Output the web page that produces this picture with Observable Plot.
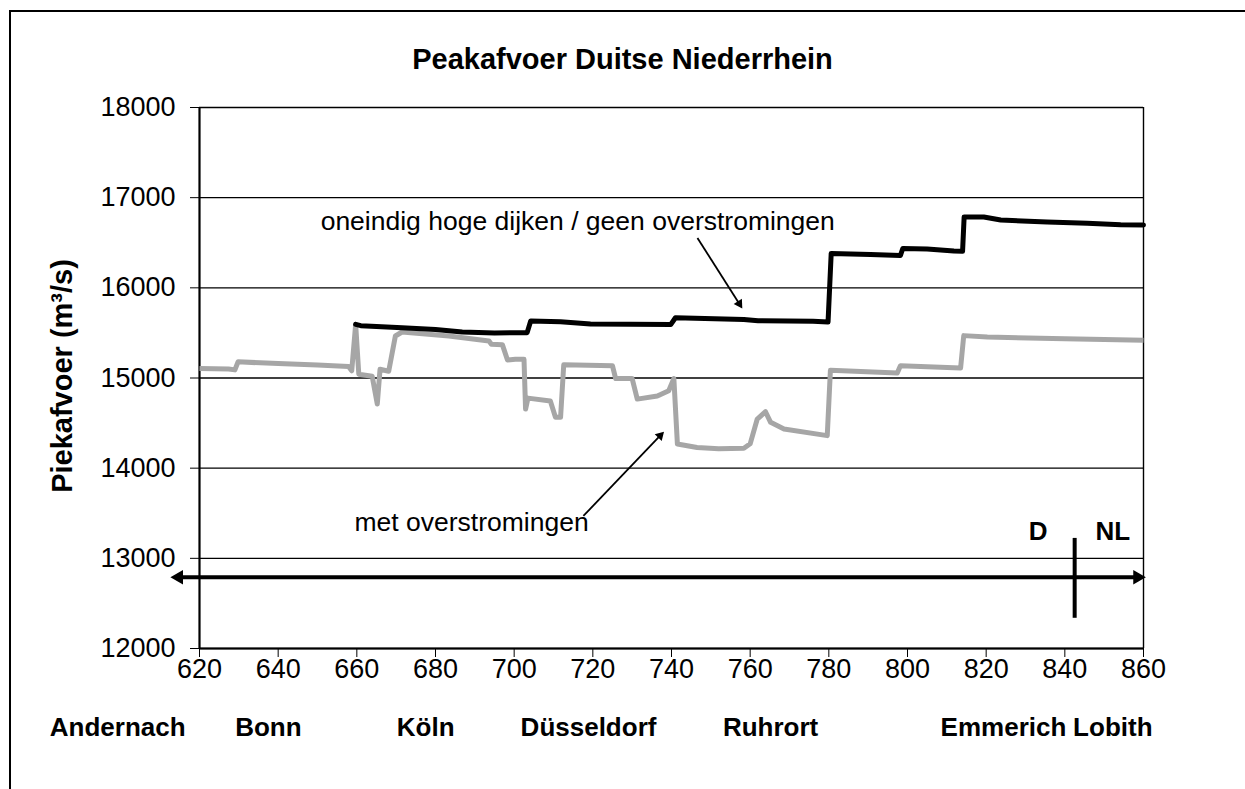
<!DOCTYPE html>
<html>
<head>
<meta charset="utf-8">
<script src="https://cdn.jsdelivr.net/npm/d3@7"></script>
<script src="https://cdn.jsdelivr.net/npm/@observablehq/plot@0.6"></script>
<style>
  html, body { margin: 0; padding: 0; background: #fff; }
  #wrap { position: relative; width: 1245px; height: 789px; overflow: hidden; font-family: "Liberation Sans", Arial, sans-serif; }
  #frame { position: absolute; left: 9px; top: 10px; width: 1300px; height: 900px; border-left: 2px solid #000; border-top: 2px solid #000; }
  #title { position: absolute; left: 0; top: 43px; width: 1245px; text-align: center; font-weight: bold; font-size: 29px; color: #000; }
  #chart { position: absolute; left: 0; top: 0; }
</style>
</head>
<body>
<div id="wrap">
  <div id="frame"></div>
  <div id="chart"></div>
  <div id="title">Peakafvoer Duitse Niederrhein</div>
</div>
<script>
// ---- data (river km, peak discharge m3/s) ----
const blackKm = [659.7, 661, 665, 671.5, 680, 686.8, 695, 703.3, 704.2, 711.8, 719.4, 739.8, 741, 758.4, 762, 776, 779.8, 780.6, 790.6, 798.2, 798.8, 805, 811.8, 814, 814.4, 819.4, 823.7, 835.5, 845.7, 854.2, 860];
const blackQ  = [15595, 15580, 15570, 15558, 15539, 15510, 15500, 15503, 15632, 15625, 15600, 15592, 15668, 15650, 15635, 15630, 15620, 16381, 16370, 16359, 16437, 16430, 16408, 16405, 16786, 16786, 16752, 16730, 16715, 16700, 16698];

const grayKm = [620, 627.4, 629, 629.8, 640, 650, 657.9, 658.7, 659.7, 660.5, 663.9, 665.2, 665.9, 668.1, 669.8, 671.5, 683.4, 693.6, 694.2, 697, 698.3, 700.3, 702.5, 702.9, 703.5, 709.2, 710.5, 711.8, 712.6, 725, 725.8, 730, 731.3, 736.4, 739.3, 740.6, 741.5, 746.5, 752, 758.4, 760, 761.8, 763.9, 765.2, 768.6, 779.6, 780.4, 797.4, 798.2, 813.5, 814.3, 820.3, 840, 860];
const grayQ  = [15105, 15100, 15090, 15179, 15160, 15145, 15127, 15080, 15595, 15042, 15020, 14711, 15097, 15075, 15466, 15510, 15466, 15410, 15374, 15370, 15200, 15208, 15208, 14655, 14777, 14744, 14564, 14564, 15146, 15135, 14994, 14994, 14766, 14800, 14858, 14994, 14268, 14230, 14215, 14221, 14270, 14545, 14626, 14508, 14434, 14361, 15085, 15055, 15137, 15111, 15470, 15455, 15435, 15419];

const xTicks = [620, 640, 660, 680, 700, 720, 740, 760, 780, 800, 820, 840, 860];
const yTicks = [12000, 13000, 14000, 15000, 16000, 17000, 18000];

const placeNames = ["Andernach", "Bonn", "Köln", "Düsseldorf", "Ruhrort", "Emmerich", "Lobith"];
const placeKm    = [599.2, 637.5, 677.5, 718.9, 765.2, 824.4, 852.2];

const noteTexts = ["oneindig hoge dijken / geen overstromingen", "met overstromingen"];
const noteKm    = [650.8, 659.4];
const noteQ     = [16735, 13400];
// annotation arrows: [fromKm, fromQ, toKm, toQ]
const noteArrows = [[746.6, 16553, 758.0, 15771], [717.6, 13470, 738.1, 14405]];

const borderTexts = ["D", "NL"];
const borderTextKm = [833.2, 852.2];
const borderTextQ = 13300;
const borderKm = 842.5;
const borderQ = [12335, 13221];
const axisArrowKm = [612.6, 860.6];
const axisArrowQ = 12790;

// ---- layout ----
const W = 1245, H = 789;
const mL = 199, mR = 102, mT = 107, mB = 141;
const pxKm = (W - mL - mR) / 240;
const pxQ = (H - mT - mB) / 6000;

// arrowhead (triangle dot) placed so its tip lands on the target point
function head(x1, y1, x2, y2, r) {
  const dx = (x2 - x1) * pxKm, dy = -(y2 - y1) * pxQ;
  const len = Math.hypot(dx, dy);
  const s = r * r * Math.PI;
  const tip = 2 * Math.sqrt(s / (Math.sqrt(3) * 3));
  const ux = dx / len, uy = dy / len;
  return {
    x: x2 - ux * tip / pxKm,
    y: y2 + uy * tip / pxQ,
    rotate: Math.atan2(dx, -dy) * 180 / Math.PI
  };
}

const blackData = blackKm.map((k, i) => ({km: k, q: blackQ[i]}));
const grayData = grayKm.map((k, i) => ({km: k, q: grayQ[i]}));
const places = placeNames.map((n, i) => ({name: n, km: placeKm[i]}));
const notes = noteTexts.map((t, i) => ({text: t, km: noteKm[i], q: noteQ[i]}));
const borders = borderTexts.map((t, i) => ({text: t, km: borderTextKm[i], q: borderTextQ}));
const arrowShafts = noteArrows.map(a => {
  const h = head(a[0], a[1], a[2], a[3], 3.6);
  return {x1: a[0], y1: a[1], x2: h.x, y2: h.y};
});
const arrowHeads = noteArrows.map(a => head(a[0], a[1], a[2], a[3], 3.6));
const axisHeads = [
  head(axisArrowKm[1], axisArrowQ, axisArrowKm[0], axisArrowQ, 5.4),
  head(axisArrowKm[0], axisArrowQ, axisArrowKm[1], axisArrowQ, 5.4)
];

const plot = Plot.plot({
  width: W, height: H,
  marginLeft: mL, marginRight: mR, marginTop: mT, marginBottom: mB,
  style: {fontFamily: "'Liberation Sans', Arial, sans-serif", fontSize: "27px", color: "#000", background: "transparent", overflow: "visible"},
  x: {domain: [620, 860], ticks: xTicks, tickSize: 9, tickPadding: 1, tickFormat: "d", label: null},
  y: {domain: [12000, 18000], ticks: yTicks, tickSize: 9, tickPadding: 15, tickFormat: "d", label: null},
  marks: [
    Plot.ruleY(yTicks, {stroke: "#000", strokeWidth: 1.4}),
    Plot.ruleX([860], {stroke: "#000", strokeWidth: 1.4}),
    Plot.ruleY([12000], {stroke: "#000", strokeWidth: 2.2}),
    Plot.ruleX([620], {stroke: "#000", strokeWidth: 2.2}),
    Plot.line(grayData, {x: "km", y: "q", stroke: "#a9a9aa", strokeWidth: 5, strokeLinejoin: "round", strokeLinecap: "butt"}),
    Plot.line(blackData, {x: "km", y: "q", stroke: "#000", strokeWidth: 5, strokeLinejoin: "round"}),
    // axis arrow and border
    Plot.ruleY([axisArrowQ], {x1: axisHeads[0].x, x2: axisHeads[1].x, stroke: "#000", strokeWidth: 4}),
    Plot.dot(axisHeads, {x: "x", y: "y", rotate: "rotate", symbol: "triangle", r: 5.4, fill: "#000", stroke: "none"}),
    Plot.ruleX([borderKm], {y1: borderQ[0], y2: borderQ[1], stroke: "#000", strokeWidth: 4}),
    Plot.text(borders, {x: "km", y: "q", text: "text", fontWeight: "bold", fontSize: 26}),
    // annotations
    Plot.link(arrowShafts, {x1: "x1", y1: "y1", x2: "x2", y2: "y2", stroke: "#000", strokeWidth: 1.8}),
    Plot.dot(arrowHeads, {x: "x", y: "y", rotate: "rotate", symbol: "triangle", r: 3.6, fill: "#000", stroke: "none"}),
    Plot.text(notes, {x: "km", y: "q", text: "text", textAnchor: "start", fontSize: 26.5}),
    // place names below axis
    Plot.text(places, {x: "km", text: "name", frameAnchor: "bottom", dy: 87, fontWeight: "bold", fontSize: 26}),
    // y label
    Plot.text(["Piekafvoer (m³/s)"], {text: d => d, frameAnchor: "left", textAnchor: "middle", dx: -137, dy: -2, rotate: -90, fontWeight: "bold", fontSize: 29})
  ]
});

// halftone pattern for the flooded-scenario line
const svg = d3.select(plot);
const defs = svg.insert("defs", ":first-child");
const pat = defs.append("pattern").attr("id", "chk").attr("patternUnits", "userSpaceOnUse").attr("width", 2).attr("height", 2);
pat.append("rect").attr("width", 2).attr("height", 2).attr("fill", "#d6d6d6");
pat.append("rect").attr("width", 1).attr("height", 1).attr("fill", "#767676");
pat.append("rect").attr("x", 1).attr("y", 1).attr("width", 1).attr("height", 1).attr("fill", "#767676");
svg.selectAll('[stroke="#a9a9aa"]').attr("stroke", "url(#chk)");

document.getElementById("chart").appendChild(plot);
</script>
</body>
</html>
